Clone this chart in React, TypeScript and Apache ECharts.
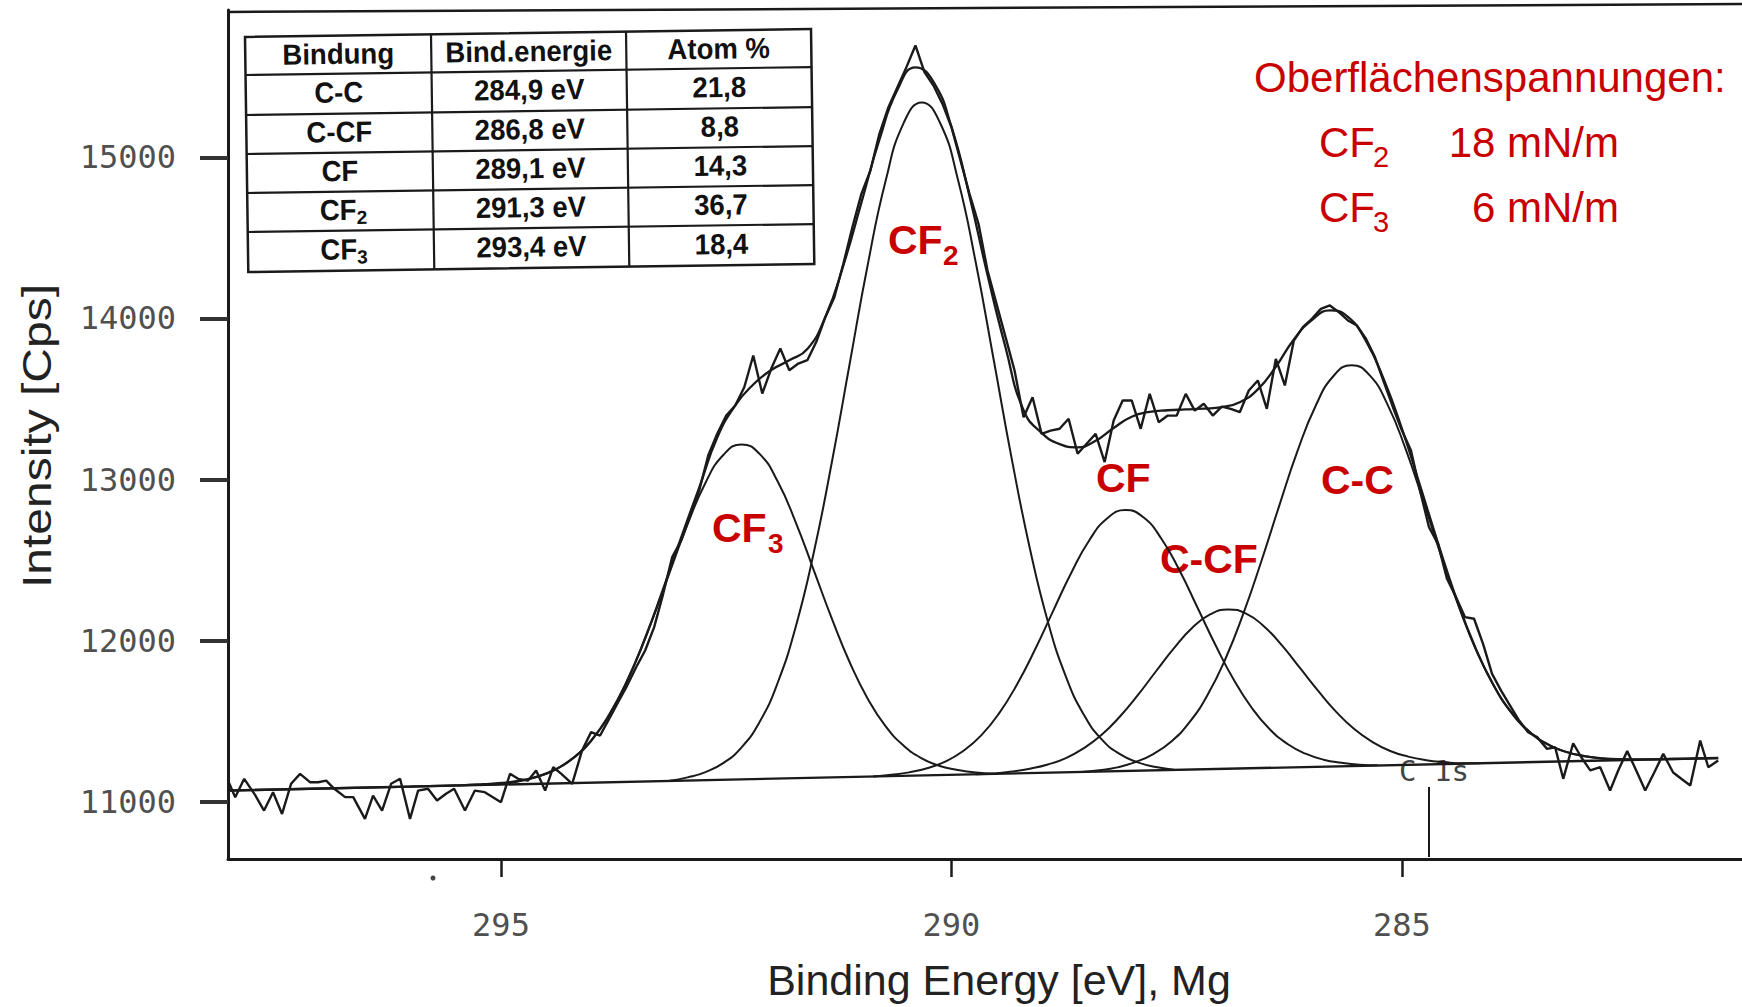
import React, { useEffect, useRef } from 'react';
import * as echarts from 'echarts';

// ---------- tick values ----------
const energyTicks = [295, 290, 285];
const intensityTicks = [11000, 12000, 13000, 14000, 15000];

// ---------- measured spectrum (raw, noisy) ----------
const rawEnergy = [
  298.03, 297.95, 297.85, 297.73, 297.63, 297.53, 297.43, 297.33, 297.23, 297.12,
  297.03, 296.94, 296.85, 296.73, 296.64, 296.51, 296.42, 296.32, 296.22, 296.12,
  296.01, 295.92, 295.81, 295.71, 295.61, 295.52, 295.40, 295.29, 295.18, 295.09,
  295.00, 294.90, 294.81, 294.70, 294.61, 294.51, 294.42, 294.33, 294.21, 294.10,
  294.00, 293.90, 293.80, 293.70, 293.60, 293.50, 293.40, 293.30, 293.20, 293.10,
  293.00, 292.90, 292.80, 292.70, 292.60, 292.50, 292.40, 292.30, 292.20, 292.10,
  292.00, 291.90, 291.80, 291.70, 291.60, 291.50, 291.40, 291.30, 291.20, 291.10,
  291.00, 290.90, 290.80, 290.70, 290.60, 290.50, 290.40, 290.30, 290.20, 290.10,
  290.00, 289.90, 289.80, 289.70, 289.60, 289.50, 289.40, 289.30, 289.20, 289.10,
  289.00, 288.90, 288.80, 288.70, 288.60, 288.50, 288.40, 288.30, 288.20, 288.10,
  288.00, 287.90, 287.80, 287.70, 287.60, 287.50, 287.40, 287.30, 287.20, 287.10,
  287.00, 286.90, 286.80, 286.70, 286.60, 286.50, 286.40, 286.30, 286.20, 286.10,
  286.00, 285.90, 285.80, 285.70, 285.60, 285.50, 285.40, 285.30, 285.20, 285.10,
  285.00, 284.90, 284.80, 284.70, 284.60, 284.50, 284.40, 284.30, 284.20, 284.10,
  284.00, 283.90, 283.80, 283.70, 283.60, 283.50, 283.39, 283.30, 283.21, 283.10,
  283.01, 282.91, 282.80, 282.69, 282.60, 282.50, 282.40, 282.30, 282.20, 282.10,
  281.99, 281.90, 281.80, 281.69, 281.60, 281.49,
];
const rawIntensity = [
  11130, 11027, 11141, 11041, 10944, 11058, 10923, 11110, 11172, 11120,
  11120, 11130, 11079, 11027, 11027, 10892, 11037, 10944, 11110, 11141,
  10892, 11068, 11079, 11006, 11048, 11079, 10944, 11068, 11058, 11027,
  10996, 11172, 11141, 11130, 11193, 11068, 11213, 11172, 11110, 11317,
  11431, 11410, 11513, 11617, 11720, 11834, 11938, 12083, 12290, 12518,
  12621, 12776, 12932, 13149, 13284, 13397, 13460, 13573, 13770, 13534,
  13689, 13814, 13679, 13720, 13741, 13855, 14008, 14132, 14340, 14567,
  14774, 14919, 15147, 15312, 15437, 15561, 15696, 15530, 15447, 15333,
  15188, 14981, 14774, 14588, 14298, 14091, 13884, 13677, 13387, 13511,
  13284, 13304, 13315, 13377, 13160, 13222, 13284, 13108, 13366, 13491,
  13491, 13315, 13532, 13356, 13397, 13397, 13532, 13428, 13470, 13397,
  13453, 13439, 13418, 13553, 13615, 13439, 13749, 13584, 13863, 13946,
  13998, 14060, 14081, 14039, 13988, 13956, 13874, 13760, 13604, 13449,
  13304, 13180, 12932, 12704, 12600, 12383, 12269, 12145, 12135, 11979,
  11793, 11689, 11596, 11503, 11430, 11400, 11327, 11337, 11141, 11362,
  11275, 11193, 11213, 11068, 11193, 11313, 11193, 11068, 11180, 11296,
  11180, 11141, 11099, 11379, 11213, 11255,
];

// ---------- fitted envelope ----------
const envelopeCurve = [
  [298.03, 11068], [296.0, 11093], [295.6, 11099], [295.4, 11102], [295.2, 11108],
  [295.0, 11115], [294.8, 11129], [294.6, 11155], [294.4, 11198], [294.2, 11269],
  [294.0, 11378], [293.8, 11538], [293.6, 11750], [293.4, 12016], [293.2, 12321],
  [293.0, 12641], [292.8, 12950], [292.6, 13260], [292.4, 13460], [292.2, 13590],
  [292.0, 13680], [291.8, 13740], [291.6, 13810], [291.4, 14010], [291.2, 14330],
  [291.0, 14720], [290.8, 15110], [290.6, 15420], [290.4, 15560], [290.2, 15470],
  [290.0, 15190], [289.8, 14760], [289.6, 14270], [289.4, 13820], [289.2, 13430],
  [289.0, 13290], [288.8, 13220], [288.6, 13200], [288.4, 13240], [288.2, 13320],
  [288.0, 13390], [287.8, 13420], [287.6, 13430], [287.4, 13435], [287.2, 13440],
  [287.0, 13450], [286.8, 13480], [286.6, 13560], [286.4, 13700], [286.2, 13870],
  [286.0, 13990], [285.8, 14050], [285.6, 14010], [285.4, 13860], [285.2, 13620],
  [285.0, 13314], [284.8, 12963], [284.6, 12605], [284.4, 12267], [284.2, 11975],
  [284.0, 11740], [283.8, 11564], [283.6, 11441], [283.4, 11360], [283.2, 11312],
  [283.0, 11284], [282.8, 11270], [282.6, 11263], [282.4, 11262], [282.2, 11262],
  [282.0, 11264], [281.8, 11266], [281.49, 11270],
];

// ---------- background line ----------
const baselineLine = [[298.03, 11068], [281.49, 11270]];

// ---------- component peaks ----------
const cf3Curve = [
  [295.13, 11104], [294.93, 11114], [294.73, 11133], [294.53, 11166], [294.33, 11219],
  [294.13, 11303], [293.93, 11428], [293.73, 11604], [293.53, 11836], [293.33, 12114],
  [293.13, 12420], [292.93, 12721], [292.73, 12980], [292.53, 13154], [292.33, 13218],
  [292.13, 13159], [291.93, 12989], [291.73, 12736], [291.53, 12439], [291.33, 12139],
  [291.13, 11865], [290.93, 11639], [290.73, 11467], [290.53, 11347], [290.33, 11268],
  [290.13, 11221], [289.93, 11196], [289.73, 11180], [289.53, 11173],
];
const cf2Curve = [
  [293.13, 11129], [292.93, 11150], [292.73, 11183], [292.53, 11240], [292.33, 11336],
  [292.13, 11494], [291.93, 11736], [291.73, 12083], [291.53, 12542], [291.33, 13101],
  [291.13, 13719], [290.93, 14332], [290.73, 14857], [290.53, 15215], [290.33, 15342],
  [290.13, 15219], [289.93, 14867], [289.73, 14346], [289.53, 13739], [289.33, 13125],
  [289.13, 12572], [288.93, 12117], [288.73, 11776], [288.53, 11538], [288.33, 11384],
  [288.13, 11294], [287.93, 11243], [287.73, 11214], [287.53, 11198],
];
const cfCurve = [
  [290.87, 11156], [290.67, 11166], [290.47, 11181], [290.27, 11207], [290.07, 11248],
  [289.87, 11314], [289.67, 11411], [289.47, 11549], [289.27, 11730], [289.07, 11947],
  [288.87, 12186], [288.67, 12421], [288.47, 12623], [288.27, 12760], [288.07, 12810],
  [287.87, 12765], [287.67, 12632], [287.47, 12436], [287.27, 12205], [287.07, 11972],
  [286.87, 11759], [286.67, 11584], [286.47, 11450], [286.27, 11357], [286.07, 11297],
  [285.87, 11260], [285.67, 11241], [285.47, 11229], [285.27, 11225],
];
const ccfCurve = [
  [289.73, 11169], [289.53, 11174], [289.33, 11186], [289.13, 11204], [288.93, 11230],
  [288.73, 11270], [288.53, 11332], [288.33, 11416], [288.13, 11528], [287.93, 11662],
  [287.73, 11809], [287.53, 11953], [287.33, 12078], [287.13, 12162], [286.93, 12193],
  [286.73, 12167], [286.53, 12087], [286.33, 11968], [286.13, 11828], [285.93, 11687],
  [285.73, 11557], [285.53, 11450], [285.33, 11371], [285.13, 11314], [284.93, 11279],
  [284.73, 11257], [284.53, 11245], [284.33, 11238], [284.13, 11238],
];
const ccCurve = [
  [288.56, 11184], [288.36, 11194], [288.16, 11212], [287.96, 11245], [287.76, 11295],
  [287.56, 11373], [287.36, 11491], [287.16, 11660], [286.96, 11885], [286.76, 12168],
  [286.56, 12494], [286.36, 12841], [286.16, 13176], [285.96, 13455], [285.76, 13643],
  [285.56, 13710], [285.36, 13648], [285.16, 13465], [284.96, 13190], [284.76, 12861],
  [284.56, 12518], [284.36, 12197], [284.16, 11919], [283.96, 11699], [283.76, 11535],
  [283.56, 11421], [283.36, 11349], [283.16, 11305], [282.96, 11281], [282.76, 11265],
  [282.56, 11258],
];

// ---------- table ----------
const tableHeader = ['Bindung', 'Bind.energie', 'Atom %'];
const bondBase = ['C-C', 'C-CF', 'CF', 'CF', 'CF'];
const bondSub = ['', '', '', '2', '3'];
const bondEnergy = ['284,9 eV', '286,8 eV', '289,1 eV', '291,3 eV', '293,4 eV'];
const atomPercent = ['21,8', '8,8', '14,3', '36,7', '18,4'];

// ---------- annotations ----------
const peakLabels = [
  { base: 'CF', sub: '3', x: 712, y: 528, subX: 768, subY: 543 },
  { base: 'CF', sub: '2', x: 888, y: 240, subX: 943, subY: 255 },
  { base: 'CF', sub: '', x: 1096, y: 478, subX: 0, subY: 0 },
  { base: 'C-CF', sub: '', x: 1160, y: 559, subX: 0, subY: 0 },
  { base: 'C-C', sub: '', x: 1321, y: 480, subX: 0, subY: 0 },
];
const tensionTitle = 'Oberflächenspannungen:';
const tensionSpecies = ['2', '3'];
const tensionValues = ['18 mN/m', '6 mN/m'];

const RED = '#c80000';
const INK = '#1a1a1a';

function txt(x: number, y: number, text: string, o: any = {}) {
  const align = o.align || 'left';
  const va = o.va || 'middle';
  return {
    type: 'text',
    x,
    y,
    silent: true,
    rotation: o.rotation || 0,
    scaleX: o.scaleX || 1,
    scaleY: o.scaleY || 1,
    style: {
      text,
      fill: o.fill || INK,
      fontSize: o.size || 30,
      fontFamily: o.family || 'Liberation Sans',
      fontWeight: o.weight || 'normal',
      align,
      verticalAlign: va,
      textAlign: align,
      textVerticalAlign: va,
    },
  };
}

function buildTable() {
  const colX = [0, 186, 381, 566];
  const rowY = [0, 38, 78, 117, 156, 195, 235];
  const children: any[] = [];
  children.push({
    type: 'rect',
    shape: { x: 0, y: 0, width: 566, height: 235 },
    style: { fill: '#fff', stroke: INK, lineWidth: 2.5 },
  });
  for (let i = 1; i < rowY.length - 1; i++) {
    children.push({ type: 'line', shape: { x1: 0, y1: rowY[i], x2: 566, y2: rowY[i] }, style: { stroke: INK, lineWidth: 2.2 } });
  }
  for (let i = 1; i < colX.length - 1; i++) {
    children.push({ type: 'line', shape: { x1: colX[i], y1: 0, x2: colX[i], y2: 235 }, style: { stroke: INK, lineWidth: 2.2 } });
  }
  const cx = [93, 283.5, 473.5];
  const tOpt = { size: 29, weight: 'bold', align: 'center', fill: '#111', scaleX: 0.95 };
  tableHeader.forEach((h, i) => children.push(txt(cx[i], 18, h, tOpt)));
  for (let r = 0; r < bondBase.length; r++) {
    const yc = (rowY[r + 1] + rowY[r + 2]) / 2 - 1.5;
    if (bondSub[r]) {
      const wBase = 1.333 * 29 * 0.95;
      const wSub = 0.556 * 19;
      const start = cx[0] - (wBase + wSub) / 2 + 3;
      children.push(txt(start, yc, bondBase[r], { size: 29, weight: 'bold', fill: '#111', scaleX: 0.95 }));
      children.push(txt(start + wBase, yc + 8, bondSub[r], { size: 19, weight: 'bold', fill: '#111' }));
    } else {
      children.push(txt(cx[0], yc, bondBase[r], tOpt));
    }
    children.push(txt(cx[1], yc, bondEnergy[r], tOpt));
    children.push(txt(cx[2], yc, atomPercent[r], tOpt));
  }
  return { type: 'group', x: 245, y: 37, rotation: 0.0141, children };
}

function buildGraphics() {
  const g: any[] = [];
  // top frame line of the scanned plot
  g.push({ type: 'line', silent: true, shape: { x1: 228, y1: 12, x2: 1742, y2: 4 }, style: { stroke: INK, lineWidth: 2.5 } });
  g.push(buildTable());
  // peak labels
  peakLabels.forEach((p) => {
    g.push(txt(p.x, p.y, p.base, { size: 41, weight: 'bold', fill: RED }));
    if (p.sub) g.push(txt(p.subX, p.subY, p.sub, { size: 28, weight: 'bold', fill: RED }));
  });
  // surface tension note
  g.push(txt(1254, 77, tensionTitle, { size: 42, fill: RED }));
  tensionSpecies.forEach((s, i) => {
    const yc = 142 + i * 65;
    g.push(txt(1319, yc, 'CF', { size: 42, fill: RED }));
    g.push(txt(1373, yc + 15, s, { size: 29, fill: RED }));
    g.push(txt(1619, yc, tensionValues[i], { size: 42, fill: RED, align: 'right' }));
  });
  // C 1s marker
  g.push(txt(1399, 771, 'C 1s', { size: 29, family: 'DejaVu Sans Mono', fill: '#444' }));
  g.push({ type: 'line', silent: true, shape: { x1: 1429, y1: 787, x2: 1429, y2: 857 }, style: { stroke: INK, lineWidth: 2 } });
  g.push({ type: 'circle', silent: true, shape: { cx: 433, cy: 878, r: 2.5 }, style: { fill: '#444' } });
  // axis titles
  g.push(txt(999, 980, 'Binding Energy [eV], Mg', { size: 43, align: 'center', fill: '#222' }));
  g.push(txt(37, 436, 'Intensity [Cps]', { size: 40, align: 'center', fill: '#222', rotation: Math.PI / 2, scaleX: 1.2 }));
  return g;
}

function lineSeries(name: string, data: any[], width: number, smooth: boolean, z: number) {
  return {
    name,
    type: 'line',
    data,
    smooth,
    symbol: 'none',
    showSymbol: false,
    silent: true,
    z,
    lineStyle: { color: INK, width },
  };
}

export default function App() {
  const ref = useRef<HTMLDivElement>(null);
  useEffect(() => {
    const chart = echarts.init(ref.current as HTMLDivElement, null, { renderer: 'svg' });
    const raw = rawEnergy.map((e, i) => [e, rawIntensity[i]]);
    chart.setOption({
      animation: false,
      backgroundColor: '#ffffff',
      grid: { left: 228, right: 0, top: 10, bottom: 148, containLabel: false },
      xAxis: {
        type: 'value',
        inverse: true,
        min: 281.226,
        max: 298.03,
        axisLine: { show: true, lineStyle: { color: INK, width: 3 } },
        axisTick: { show: true, customValues: energyTicks, length: 18, lineStyle: { color: INK, width: 2.5 } },
        axisLabel: {
          customValues: energyTicks,
          formatter: (v: number) => String(v),
          margin: 50,
          color: '#505050',
          fontFamily: 'DejaVu Sans Mono',
          fontSize: 32,
        },
        splitLine: { show: false },
      },
      yAxis: {
        type: 'value',
        min: 10643,
        max: 15916,
        axisLine: { show: true, lineStyle: { color: INK, width: 3 } },
        axisTick: { show: true, customValues: intensityTicks, length: 28, lineStyle: { color: '#333', width: 4 } },
        axisLabel: {
          customValues: intensityTicks,
          formatter: (v: number) => String(v),
          margin: 52,
          color: '#505050',
          fontFamily: 'DejaVu Sans Mono',
          fontSize: 32,
        },
        splitLine: { show: false },
      },
      series: [
        lineSeries('baseline', baselineLine, 2.4, false, 2),
        lineSeries('CF3', cf3Curve, 2, true, 3),
        lineSeries('CF2', cf2Curve, 2, true, 3),
        lineSeries('CF', cfCurve, 2, true, 3),
        lineSeries('C-CF', ccfCurve, 2, true, 3),
        lineSeries('C-C', ccCurve, 2, true, 3),
        lineSeries('envelope', envelopeCurve, 2.3, true, 4),
        lineSeries('raw', raw, 2.4, false, 5),
      ],
      graphic: buildGraphics(),
    });
    return () => chart.dispose();
  }, []);
  return (
    <div
      ref={ref}
      style={{ position: 'fixed', left: 0, top: 0, width: 1742, height: 1007, background: '#fff' }}
    />
  );
}
